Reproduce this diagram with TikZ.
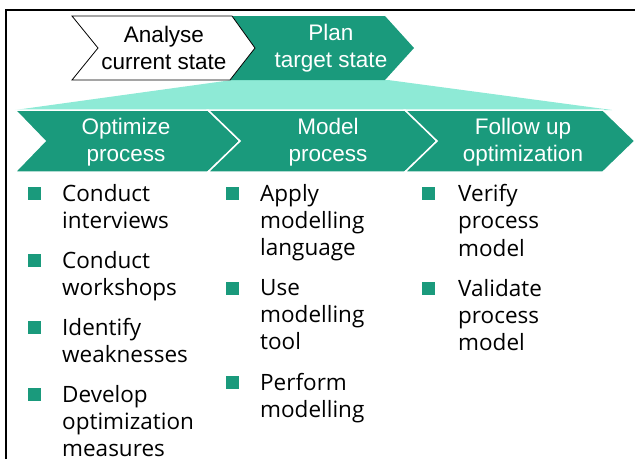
\documentclass[tikz,border=0pt]{standalone}
\usepackage{fontspec}
\setmainfont{Liberation Sans}
\newfontfamily\bulletfont{Open Sans}
\definecolor{tgreen}{RGB}{26,154,124}
\definecolor{tlight}{RGB}{142,234,214}
\tikzset{
  head/.style={align=center, font=\fontsize{22.5}{27.5}\selectfont, inner sep=0pt},
  item/.style={anchor=north west, align=left, inner sep=0pt, font=\bulletfont\fontsize{22.5}{27.3}\selectfont},
  sq/.style={fill=tgreen, minimum size=13pt, inner sep=0pt},
  greenchev/.style={fill=tgreen, draw=white, line width=1.5pt, line join=miter}
}
\begin{document}
\begin{tikzpicture}[x=1pt,y=-1pt]
\useasboundingbox (0,0) rectangle (635,459);
\draw[line width=1.2pt] (6,459) -- (6,10) -- (635,10);
% light trapezoid
\fill[tlight] (232,80) -- (388,80) -- (612,110) -- (15,110) -- cycle;
% top chevrons
\fill[tgreen] (232,16) -- (385,16) -- (414,48) -- (385,80) -- (230,80) -- (255,48) -- cycle;
\draw[fill=white, line width=0.8pt] (72,16) -- (232,16) -- (255,48) -- (230,80) -- (72,80) -- (98,48) -- cycle;
\node[head] (ana) at (164,48) {Analyse\\current state};
\node[head, text=white] (plan) at (331,48) {Plan\\target state};
% bottom chevrons
\path[greenchev] (15,110) -- (208,110) -- (240,141) -- (208,172) -- (15,172) -- (45,141) -- cycle;
\path[greenchev] (208,110) -- (405,110) -- (437,141) -- (405,172) -- (208,172) -- (240,141) -- cycle;
\path[greenchev] (405,110) -- (603,110) -- (635,141) -- (603,172) -- (405,172) -- (437,141) -- cycle;
\node[head, text=white] (opt) at (126,142) {Optimize\\process};
\node[head, text=white] (mod) at (328,142) {Model\\process};
\node[head, text=white] (fol) at (523,142) {Follow up\\optimization};
% column 1
\node[sq] (b1) at (34,193) {};
\node[item] (t1) at (62,184) {Conduct\\interviews};
\node[sq] (b2) at (34,260) {};
\node[item] (t2) at (62,251) {Conduct\\workshops};
\node[sq] (b3) at (34,327) {};
\node[item] (t3) at (62,318) {Identify\\weaknesses};
\node[sq] (b4) at (34,394) {};
\node[item] (t4) at (62,385) {Develop\\optimization\\measures};
% column 2
\node[sq] (c1) at (232,193) {};
\node[item] (u1) at (260,184) {Apply\\modelling\\language};
\node[sq] (c2) at (232,288) {};
\node[item] (u2) at (260,279) {Use\\modelling\\tool};
\node[sq] (c3) at (232,382) {};
\node[item] (u3) at (260,373) {Perform\\modelling};
% column 3
\node[sq] (d1) at (428,193) {};
\node[item] (v1) at (458,184) {Verify\\process\\model};
\node[sq] (d2) at (428,288) {};
\node[item] (v2) at (458,279) {Validate\\process\\model};
\end{tikzpicture}
\end{document}
